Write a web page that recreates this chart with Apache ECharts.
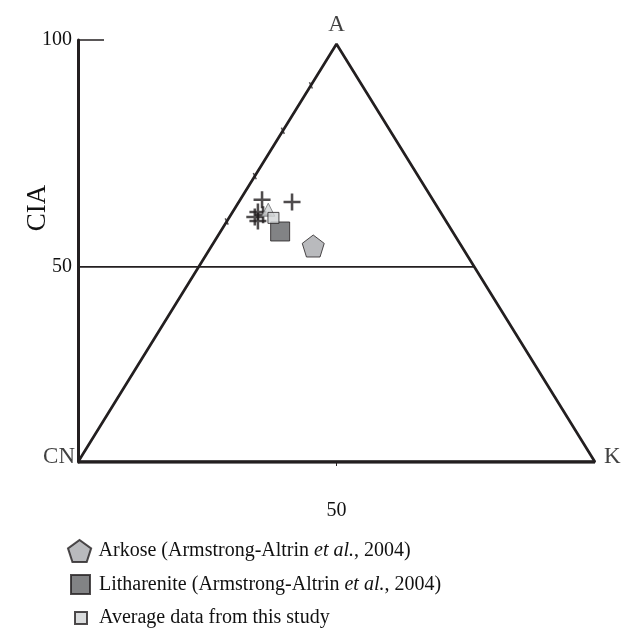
<!DOCTYPE html>
<html>
<head>
<meta charset="utf-8">
<title>A-CN-K diagram</title>
<script src="https://cdn.jsdelivr.net/npm/echarts@6/dist/echarts.min.js"></script>
<style>
  html, body { margin: 0; padding: 0; background: #ffffff; }
  #chart { width: 629px; height: 635px; }
</style>
</head>
<body>
<div id="chart"></div>
<script>
// ---- data ----
// Ternary frame in (horizontal position, A%) units: CN, A, K corners
const frameX = [0, 50, 100, 0];
const frameY = [0, 100, 0, 0];
const vertexNames = ['CN', 'A', 'K'];

// CIA axis
const ciaMin = 7;
const ciaMax = 100;
const ciaLabels = [50, 100];
const ciaTopTick = [100];
const ciaEdgeTicks = [60, 70, 80, 90];
const ciaReference = 50;
const bottomTick = [50];

// Samples from this study: [horizontal position, CIA]
const studyX = [35.6, 41.4, 34.8, 34.2, 34.8, 35.8];
const studyCIA = [64.8, 64.3, 62.1, 61.0, 60.1, 61.5];
const studyTriX = [36.8];
const studyTriCIA = [62.6];

// Averages
const averageX = [37.8];
const averageCIA = [60.8];
const litharX = [39.1];
const litharCIA = [57.8];
const arkoseX = [45.5];
const arkoseCIA = [54.6];

const legendNames = [
  'Arkose (Armstrong-Altrin et al., 2004)',
  'Litharenite (Armstrong-Altrin et al., 2004)',
  'Average data from this study'
];

// ---- layout ----
const W = 629, H = 635;
const gridLeft = 78, gridRight = 34, gridTop = 40, gridBottom = 173;
const plotH = H - gridTop - gridBottom;
// the frame apex sits a few pixels below the top of the CIA axis
const frameMax = 100 * plotH / (plotH - 4);

const ink = '#231f20';
const textInk = '#111111';
const serif = '"Liberation Serif", "Times New Roman", serif';

// CIA value -> frame (A%) value, both axes share the same grid
function ciaToFrame(v) {
  return (v - ciaMin) / (ciaMax - ciaMin) * frameMax;
}
const zip = (xs, ys) => xs.map((x, i) => [x, ys[i]]);

const refFrame = ciaToFrame(ciaReference);
const refLine = [[0, ciaReference], [100 - refFrame / 2, ciaReference]];
const edgeTicks = ciaEdgeTicks.map(v => [ciaToFrame(v) / 2, ciaToFrame(v)]);

const plusPath = 'path://M6.8,0H9.2V6.8H16V9.2H9.2V16H6.8V9.2H0V6.8H6.8Z';
const pentagonPath = 'path://M50,0L97.6,34.5L79.4,90.5L20.6,90.5L2.4,34.5Z';

const legendText = {
  fontFamily: serif, fontSize: 20, color: textInk,
  rich: { i: { fontFamily: serif, fontSize: 20, fontStyle: 'italic', color: textInk } }
};
const legendFormatter = n => n.replace('et al.', '{i|et al.}');

const chart = echarts.init(document.getElementById('chart'), null, { renderer: 'canvas' });
chart.setOption({
  backgroundColor: '#ffffff',
  animation: false,
  grid: {
    left: gridLeft, right: gridRight, top: gridTop, bottom: gridBottom,
    containLabel: false, outerBoundsMode: 'none'
  },
  xAxis: {
    type: 'value', min: 0, max: 100,
    axisLine: { show: false },
    splitLine: { show: false },
    axisTick: { show: true, customValues: bottomTick, length: 4, lineStyle: { color: ink, width: 1 } },
    axisLabel: { customValues: bottomTick, margin: 39, fontFamily: serif, fontSize: 20, color: textInk }
  },
  yAxis: [
    {
      type: 'value', min: ciaMin, max: ciaMax, position: 'left',
      axisLine: { show: true, lineStyle: { color: ink, width: 3 } },
      axisTick: { show: true, inside: true, customValues: ciaTopTick, length: 26, lineStyle: { color: ink, width: 1.5 } },
      axisLabel: { customValues: ciaLabels, margin: 6, fontFamily: serif, fontSize: 20, color: textInk },
      splitLine: { show: false }
    },
    {
      type: 'value', min: 0, max: frameMax, show: false
    }
  ],
  graphic: [{
    type: 'text', x: 38, y: 208, rotation: Math.PI / 2,
    style: { text: 'CIA', fontFamily: serif, fontSize: 27, fill: textInk, align: 'center', verticalAlign: 'middle' }
  }],
  legend: [0, 1, 2].map(i => ({
    data: [legendNames[i]],
    orient: 'vertical',
    padding: 0,
    left: [67, 70, 74][i],
    top: [539, 574, 608][i],
    itemWidth: [24, 19, 12][i],
    itemHeight: [22, 19, 12][i],
    textStyle: Object.assign({ padding: [0, 0, 0, [2, 4, 7][i]] }, legendText),
    formatter: legendFormatter,
    selectedMode: false
  })),
  series: [
    {
      name: 'frame', type: 'line', yAxisIndex: 1,
      data: zip(frameX, frameY), symbol: 'none', silent: true,
      lineStyle: { color: ink, width: 2.7 }, z: 2
    },
    {
      name: 'base', type: 'line', yAxisIndex: 1,
      data: [[frameX[0], frameY[0]], [frameX[2], frameY[2]]], symbol: 'none', silent: true,
      lineStyle: { color: ink, width: 3.5 }, z: 2
    },
    {
      name: 'vertices', type: 'scatter', yAxisIndex: 1, silent: true,
      data: [
        { value: [frameX[0], frameY[0]], label: { formatter: vertexNames[0], align: 'right', offset: [-3, 6] } },
        { value: [frameX[1], frameY[1]], label: { formatter: vertexNames[1], align: 'center', offset: [0, -8] } },
        { value: [frameX[2], frameY[2]], label: { formatter: vertexNames[2], align: 'left', offset: [9, 6] } }
      ],
      symbolSize: 1, itemStyle: { color: 'rgba(0,0,0,0)' },
      label: { show: true, position: 'inside', verticalAlign: 'bottom', fontFamily: serif, fontSize: 23, color: textInk },
      z: 3
    },
    {
      name: 'cia50', type: 'line', yAxisIndex: 0,
      data: refLine, symbol: 'none', silent: true,
      lineStyle: { color: ink, width: 1.6 }, z: 2
    },
    {
      name: 'edgeTicks', type: 'scatter', yAxisIndex: 1, silent: true,
      data: edgeTicks, symbol: 'rect', symbolSize: [1.5, 7], symbolRotate: 25,
      itemStyle: { color: ink }, z: 3
    },
    {
      name: 'study', type: 'scatter', yAxisIndex: 0,
      data: zip(studyX, studyCIA), symbol: plusPath, symbolSize: 17,
      itemStyle: { color: ink }, z: 4
    },
    {
      name: 'studyTri', type: 'scatter', yAxisIndex: 0,
      data: zip(studyTriX, studyTriCIA), symbol: 'triangle', symbolSize: 13,
      itemStyle: { color: '#d1d3d4', borderColor: '#6d6e71', borderWidth: 1 }, z: 5
    },
    {
      name: legendNames[0], type: 'scatter', yAxisIndex: 0,
      data: zip(arkoseX, arkoseCIA), symbol: pentagonPath, symbolSize: 22,
      itemStyle: { color: '#a7a9ac', borderColor: ink, borderWidth: 1 }, z: 5
    },
    {
      name: legendNames[1], type: 'scatter', yAxisIndex: 0,
      data: zip(litharX, litharCIA), symbol: 'rect', symbolSize: 19,
      itemStyle: { color: '#636466', borderColor: ink, borderWidth: 1 }, z: 6
    },
    {
      name: legendNames[2], type: 'scatter', yAxisIndex: 0,
      data: zip(averageX, averageCIA), symbol: 'rect', symbolSize: 11,
      itemStyle: { color: '#d1d3d4', borderColor: ink, borderWidth: 1 }, z: 7
    }
  ]
});
</script>
</body>
</html>
